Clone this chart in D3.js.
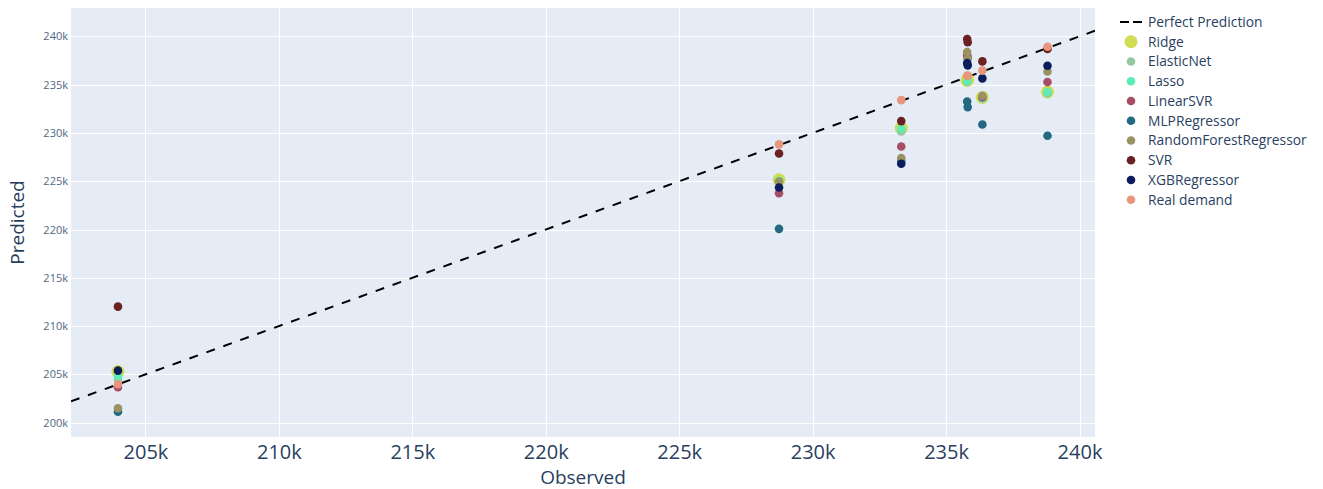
<!DOCTYPE html>
<html>
<head>
<meta charset="utf-8">
<script src="https://cdn.jsdelivr.net/npm/d3@7"></script>
<style>
  html, body { margin: 0; padding: 0; background: #ffffff; }
  svg { display: block; font-family: "Open Sans", verdana, arial, sans-serif; }
</style>
</head>
<body>
<svg id="chart" width="1323" height="489"></svg>
<script>
// Observed demand and each model's prediction for the same periods
const observed   = [203970, 228740, 233320, 235790, 235810, 236360, 238800];
const realDemand = [203980, 228820, 233400, 235920, 235940, 236460, 238930];
const ridge      = [205290, 225150, 230500, 235440, 235560, 233680, 234240];
const elasticNet = [204500, 225000, 230160, 235300, 235400, 233550, 234100];
const lasso      = [204800, 225050, 230430, 235400, 235500, 233600, 234250];
const linearSVR  = [203670, 223770, 228600, 238030, 237800, 233700, 235270];
const mlp        = [201140, 220070, 227100, 233260, 232680, 230880, 229710];
const randomForest = [201490, 224970, 227400, 238380, 237690, 233860, 236370];
const svr        = [212020, 227880, 231230, 239730, 239390, 237410, 238690];
const xgb        = [205390, 224350, 226810, 237240, 237000, 235650, 236960];

// Diagonal reference line (y = x) endpoints
const perfectLine = [202210, 240580];

const xTicks = [205000, 210000, 215000, 220000, 225000, 230000, 235000, 240000];
const yTicks = [200000, 205000, 210000, 215000, 220000, 225000, 230000, 235000, 240000];

const series = [
  { name: "Ridge",                 values: ridge,        color: "#cfdc48", r: 6.5, opacity: 0.95 },
  { name: "ElasticNet",            values: elasticNet,   color: "#93c8a0", r: 4.3, opacity: 1 },
  { name: "Lasso",                 values: lasso,        color: "#5eebb5", r: 4.3, opacity: 1 },
  { name: "LinearSVR",             values: linearSVR,    color: "#a64e66", r: 4.3, opacity: 1 },
  { name: "MLPRegressor",          values: mlp,          color: "#236a80", r: 4.3, opacity: 1 },
  { name: "RandomForestRegressor", values: randomForest, color: "#9a9262", r: 4.3, opacity: 1 },
  { name: "SVR",                   values: svr,          color: "#6b2022", r: 4.3, opacity: 1 },
  { name: "XGBRegressor",          values: xgb,          color: "#0b1d5c", r: 4.3, opacity: 1 },
  { name: "Real demand",           values: realDemand,   color: "#e9957c", r: 4.3, opacity: 1 }
];

const svg = d3.select("#chart");
const plot = { left: 71, top: 8, right: 1095, bottom: 437 };

const x = d3.scaleLinear().domain([202210, 240580]).range([plot.left, plot.right]);
const y = d3.scaleLinear().domain([198520, 242940]).range([plot.bottom, plot.top]);

const textColor = "#2a3f5f";
const fmtK = d => d3.format("d")(d / 1000) + "k";

// plot background
svg.append("rect")
  .attr("x", plot.left).attr("y", plot.top)
  .attr("width", plot.right - plot.left).attr("height", plot.bottom - plot.top)
  .attr("fill", "#e5ecf6");

// grid lines
const grid = svg.append("g");
grid.selectAll("line.gx").data(xTicks).join("line")
  .attr("x1", d => Math.round(x(d)) + 0.5).attr("x2", d => Math.round(x(d)) + 0.5)
  .attr("y1", plot.top).attr("y2", plot.bottom)
  .attr("stroke", "#ffffff").attr("stroke-width", 1);
grid.selectAll("line.gy").data(yTicks).join("line")
  .attr("y1", d => Math.round(y(d)) + 0.5).attr("y2", d => Math.round(y(d)) + 0.5)
  .attr("x1", plot.left).attr("x2", plot.right)
  .attr("stroke", "#ffffff").attr("stroke-width", 1);

// axes (labels only, no domain or tick marks)
const xAxis = svg.append("g")
  .attr("transform", `translate(0,${plot.bottom})`)
  .call(d3.axisBottom(x).tickValues(xTicks).tickFormat(fmtK).tickSize(0).tickPadding(8));
xAxis.select(".domain").remove();
xAxis.selectAll("text")
  .attr("fill", textColor).attr("font-size", 20)
  .attr("font-family", "'Open Sans', verdana, arial, sans-serif");

const yAxis = svg.append("g")
  .attr("transform", `translate(${plot.left},0)`)
  .call(d3.axisLeft(y).tickValues(yTicks).tickFormat(fmtK).tickSize(0).tickPadding(3));
yAxis.select(".domain").remove();
yAxis.selectAll("text")
  .attr("fill", "#506784").attr("font-size", 11)
  .attr("font-family", "'Open Sans', verdana, arial, sans-serif");

// axis titles
svg.append("text")
  .attr("x", (plot.left + plot.right) / 2).attr("y", 484)
  .attr("text-anchor", "middle").attr("fill", textColor).attr("font-size", 19)
  .text("Observed");
svg.append("text")
  .attr("transform", `translate(24,${(plot.top + plot.bottom) / 2}) rotate(-90)`)
  .attr("text-anchor", "middle").attr("fill", textColor).attr("font-size", 19)
  .text("Predicted");

// clipped drawing layer
svg.append("clipPath").attr("id", "plot-clip")
  .append("rect")
  .attr("x", plot.left).attr("y", plot.top)
  .attr("width", plot.right - plot.left).attr("height", plot.bottom - plot.top);
const layer = svg.append("g").attr("clip-path", "url(#plot-clip)");

// perfect prediction diagonal
const line = d3.line().x(d => x(d)).y(d => y(d));
layer.append("path")
  .datum(perfectLine)
  .attr("d", line)
  .attr("fill", "none").attr("stroke", "#000000")
  .attr("stroke-width", 2).attr("stroke-dasharray", "9,9");

// model predictions
series.forEach(s => {
  layer.append("g").selectAll("circle")
    .data(s.values.map((v, i) => ({ obs: observed[i], pred: v })))
    .join("circle")
    .attr("cx", d => x(d.obs))
    .attr("cy", d => y(d.pred))
    .attr("r", s.r)
    .attr("fill", s.color)
    .attr("fill-opacity", s.opacity);
});

// legend
const legend = svg.append("g").attr("transform", "translate(1120,22)");
const rowH = 19.75;
const lg0 = legend.append("g");
lg0.append("line")
  .attr("x1", 0).attr("x2", 22).attr("y1", 0).attr("y2", 0)
  .attr("stroke", "#000").attr("stroke-width", 2).attr("stroke-dasharray", "9,4");
lg0.append("text").attr("x", 28).attr("y", 0).attr("dy", "0.35em")
  .attr("fill", textColor).attr("font-size", 13.8).text("Perfect Prediction");

series.forEach((s, i) => {
  const g = legend.append("g").attr("transform", `translate(0,${(i + 1) * rowH})`);
  g.append("circle").attr("cx", 11).attr("cy", 0).attr("r", s.r)
    .attr("fill", s.color).attr("fill-opacity", s.opacity);
  g.append("text").attr("x", 28).attr("y", 0).attr("dy", "0.35em")
    .attr("fill", textColor).attr("font-size", 13.8).text(s.name);
});
</script>
</body>
</html>
